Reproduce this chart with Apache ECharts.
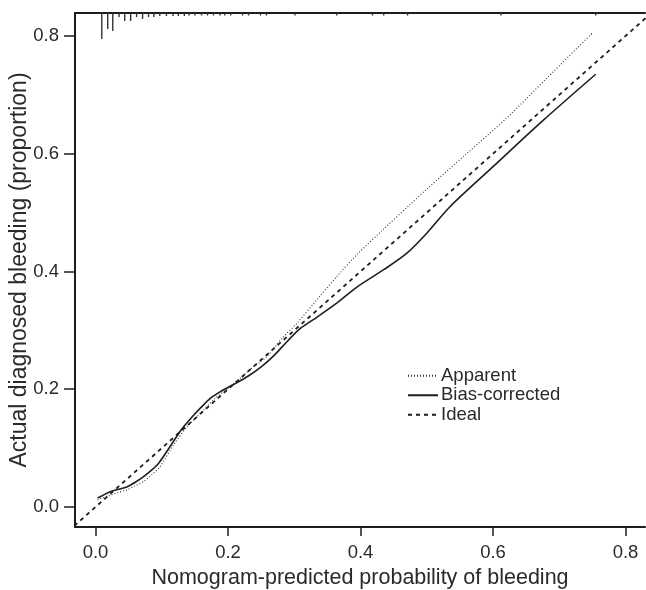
<!DOCTYPE html>
<html><head><meta charset="utf-8">
<script src="https://cdn.jsdelivr.net/npm/echarts@6/dist/echarts.min.js"></script>
<style>html,body{margin:0;padding:0;background:#fff}#c{width:646px;height:590px}</style>
</head><body><div id="c"></div>
<script>
// ---- data ----
var tickValues = [0, 0.2, 0.4, 0.6, 0.8];
var biasX = [0.003,0.01,0.022,0.035,0.047,0.06,0.072,0.085,0.095,0.105,0.115,0.13,0.145,0.16,0.175,0.19,0.2,0.215,0.23,0.25,0.27,0.29,0.31,0.335,0.365,0.395,0.435,0.47,0.5,0.535,0.6,0.676,0.755];
var biasY = [0.015,0.019,0.026,0.030,0.034,0.042,0.051,0.063,0.074,0.090,0.107,0.132,0.152,0.170,0.186,0.197,0.203,0.212,0.222,0.238,0.258,0.282,0.304,0.323,0.347,0.374,0.403,0.431,0.465,0.510,0.578,0.657,0.735];
var appX = [0.003,0.01,0.022,0.035,0.047,0.06,0.072,0.085,0.097,0.1175,0.138,0.158,0.178,0.2,0.215,0.233,0.258,0.2835,0.304,0.334,0.364,0.394,0.434,0.475,0.5,0.56,0.621,0.68,0.75];
var appY = [0.012,0.015,0.020,0.025,0.029,0.036,0.043,0.055,0.068,0.105,0.136,0.159,0.182,0.202,0.215,0.233,0.255,0.289,0.312,0.352,0.391,0.428,0.471,0.514,0.540,0.600,0.661,0.727,0.805];
var idealX = [-0.05, 0.9];
var idealY = [-0.05, 0.9];
var rugX = [0.0094,0.0184,0.026,0.0355,0.044,0.053,0.062,0.071,0.080,0.088,0.097,0.107,0.117,0.125,0.134,0.141,0.150,0.160,0.169,0.178,0.188,0.195,0.204,0.222,0.231,0.249,0.258,0.301,0.364,0.418,0.435,0.471,0.612,0.755];
var rugFreq = [25,15,17,3,7,7,3,5,3,3,2,2,2,2,2,1.5,1.5,1.5,1.5,1.5,1.5,1.5,1.5,1.5,1.5,1.5,1.5,1.5,1.5,1.5,1.5,1.5,1.5,1.5];
var seriesNames = ['Apparent', 'Bias-corrected', 'Ideal'];

function zip(a, b) { return a.map(function (v, i) { return [v, b[i]]; }); }

var X_MIN = -0.031, X_MAX = 0.8294, Y_MIN = -0.034, Y_MAX = 0.839;
var FONT = 'Liberation Sans, Arial, Helvetica, sans-serif';
var INK = '#1e1e1e';

var chart = echarts.init(document.getElementById('c'), null, {renderer: 'canvas'});
chart.setOption({
  animation: false,
  backgroundColor: '#fff',
  grid: {left: 75, right: 1, top: 13, bottom: 63, containLabel: false, outerBoundsMode: 'none'},
  legend: {
    orient: 'vertical', left: 402, top: 361,
    itemWidth: 30, itemHeight: 14, itemGap: 0,
    data: seriesNames,
    itemStyle: {opacity: 0},
    textStyle: {fontFamily: FONT, fontSize: 18.5, lineHeight: 19.5, color: '#2a2a2a', padding: [0,0,0,-2]},
    selectedMode: false
  },
  xAxis: [{
    type: 'value', min: X_MIN, max: X_MAX, position: 'bottom',
    name: 'Nomogram-predicted probability of bleeding', nameLocation: 'middle', nameGap: 40,
    nameMoveOverlap: false,
    nameTextStyle: {fontFamily: FONT, fontSize: 21.5, color: '#2a2a2a'},
    axisLine: {show: true, onZero: false, lineStyle: {color: INK, width: 2}},
    axisTick: {show: true, inside: false, length: 9, customValues: tickValues, lineStyle: {color: INK, width: 1.5}},
    axisLabel: {show: true, margin: 16, customValues: tickValues, fontFamily: FONT, fontSize: 18.5, color: '#2a2a2a',
      formatter: function (v) { return v.toFixed(1); }},
    splitLine: {show: false}
  }, {
    type: 'value', min: X_MIN, max: X_MAX, position: 'top',
    axisLine: {show: true, onZero: false, lineStyle: {color: INK, width: 2}},
    axisTick: {show: false}, axisLabel: {show: false}, splitLine: {show: false}
  }],
  yAxis: [{
    type: 'value', min: Y_MIN, max: Y_MAX,
    name: 'Actual diagnosed bleeding (proportion)', nameLocation: 'middle', nameGap: 44,
    nameMoveOverlap: false,
    nameTextStyle: {fontFamily: FONT, fontSize: 23, color: '#2a2a2a'},
    axisLine: {show: true, onZero: false, lineStyle: {color: INK, width: 2}},
    axisTick: {show: true, inside: false, length: 11, customValues: tickValues, lineStyle: {color: INK, width: 1.5}},
    axisLabel: {show: true, margin: 16, customValues: tickValues, fontFamily: FONT, fontSize: 18.5, color: '#2a2a2a',
      formatter: function (v) { return v.toFixed(1); }},
    splitLine: {show: false}
  }],
  series: [{
    name: 'Apparent', type: 'line', data: zip(appX, appY), smooth: 0.3, symbol: 'none',
    itemStyle: {color: '#333'},
    lineStyle: {color: '#333', width: 1.1, type: [1, 2]}, clip: true
  }, {
    name: 'Bias-corrected', type: 'line', data: zip(biasX, biasY), smooth: 0.3, symbol: 'none',
    itemStyle: {color: INK},
    lineStyle: {color: INK, width: 1.6, type: 'solid'}, clip: true
  }, {
    name: 'Ideal', type: 'line', data: zip(idealX, idealY), symbol: 'none',
    itemStyle: {color: INK},
    lineStyle: {color: INK, width: 1.8, type: [4, 4]}, clip: true
  }, {
    name: 'rug', type: 'custom', data: zip(rugX, rugFreq), clip: false,
    renderItem: function (params, api) {
      var x = api.value(0), f = api.value(1);
      var p0 = api.coord([x, Y_MAX]);
      var p1 = api.coord([x, Y_MAX - f * (0.8 / 471)]);
      return {type: 'line', shape: {x1: p0[0], y1: p0[1], x2: p1[0], y2: p1[1] + 1},
        style: {stroke: '#333', lineWidth: 1.4}};
    }
  }]
});
</script></body></html>
